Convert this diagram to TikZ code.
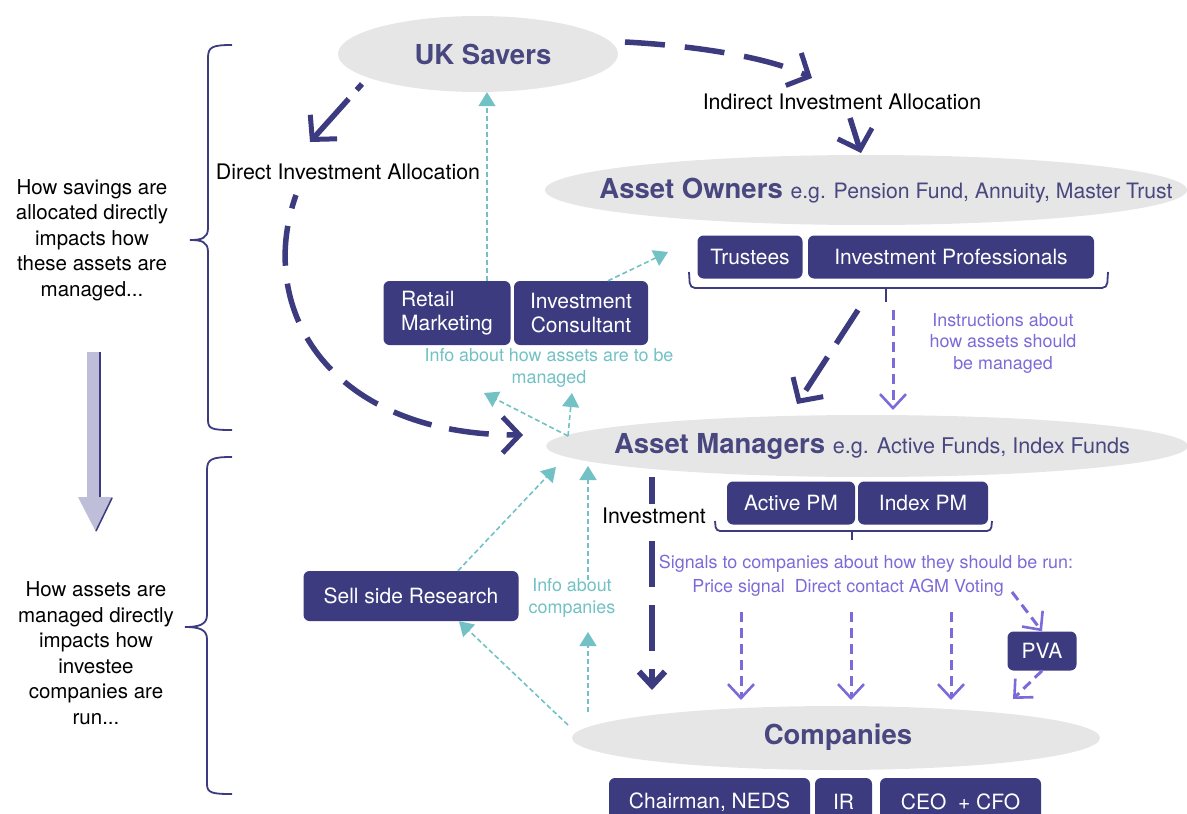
\documentclass[tikz,border=0pt]{standalone}
\usepackage{fontspec}
\setmainfont{TeX Gyre Heros}
\usetikzlibrary{arrows.meta,shapes.geometric}
\definecolor{navy}{HTML}{3C3B7F}
\definecolor{ellfill}{HTML}{E6E6E6}
\definecolor{elltext}{HTML}{48477F}
\definecolor{tealc}{HTML}{72C1C4}
\definecolor{purp}{HTML}{7D6AD8}
\definecolor{grayarrow}{HTML}{BEBED8}
\begin{document}
\begin{tikzpicture}[x=1pt,y=-1pt,
  ell/.style={ellipse, fill=ellfill, inner sep=0pt},
  titletext/.style={text=elltext, font=\fontsize{27.5}{30}\selectfont\bfseries},
  box/.style={rectangle, rounded corners=6pt, fill=navy, text=white, inner sep=0pt, align=center, font=\fontsize{21}{23.5}\selectfont},
  blacktext/.style={text=black, font=\fontsize{21.4}{25.5}\selectfont, align=center, inner sep=0pt},
  sidetext/.style={text=black, font=\fontsize{20.5}{25.5}\selectfont, align=center, inner sep=0pt},
  tealtext/.style={text=tealc, font=\fontsize{17.9}{21.5}\selectfont, align=center, inner sep=0pt},
  purptext/.style={text=purp, font=\fontsize{17.9}{21.5}\selectfont, align=center, inner sep=0pt},
  bigarrow/.style={navy, line width=5.5pt, dash pattern=on 40pt off 20pt, -{Straight Barb[length=17pt,width=36pt,line width=5pt]}},
  purparrow/.style={purp, line width=3pt, dash pattern=on 10pt off 6pt, -{Straight Barb[length=14pt,width=26pt,line width=2.6pt]}},
  tealarrow/.style={tealc, line width=1.6pt, dash pattern=on 5pt off 3pt, -{Triangle[length=14pt,width=17pt]}},
  bracel/.style={navy, line width=1.8pt},
]
\useasboundingbox (0,0) rectangle (1187,814);

% helper x positions
\coordinate (x458) at (458,0);
\coordinate (x459) at (459,0);
\coordinate (x487) at (487,0);
\coordinate (x608) at (608,0);

% ellipses
\node[ell, minimum width=280pt, minimum height=76pt] (uk) at (478,54) {};
\node[titletext] (uktext) at (483,54) {UK Savers};
\node[ell, minimum width=642pt, minimum height=70pt] (ao) at (866,190) {};
\node[titletext] (aotext) at (886,191) {Asset Owners {\fontsize{21.2}{24}\selectfont\mdseries e.g. Pension Fund, Annuity, Master Trust}};
\node[ell, minimum width=642pt, minimum height=62pt] (am) at (867,446) {};
\node[titletext] (amtext) at (872,446) {Asset Managers {\fontsize{21.6}{24}\selectfont\mdseries e.g. Active Funds, Index Funds}};
\node[ell, minimum width=528pt, minimum height=64pt] (co) at (836,738) {};
\node[titletext] (cotext) at (838,737) {Companies};

% boxes
\node[box, minimum width=105pt, minimum height=43pt] (tr) at (750,257) {Trustees};
\node[box, minimum width=286pt, minimum height=43pt] (ip) at (951,257) {Investment Professionals};
\node[box, minimum width=127pt, minimum height=64pt, align=left] (rm) at (447,313) {Retail\\Marketing};
\node[box, minimum width=134pt, minimum height=64pt] (ic) at (581,313) {Investment\\Consultant};
\node[box, minimum width=128pt, minimum height=43pt] (apm) at (791,503) {Active PM};
\node[box, minimum width=130pt, minimum height=43pt] (ipm) at (923,503) {Index PM};
\node[box, minimum width=215pt, minimum height=50pt] (ssr) at (411,596) {Sell side Research};
\node[box, minimum width=69pt, minimum height=39pt] (pva) at (1042,651) {PVA};
\node[box, minimum width=201pt, minimum height=48pt] (ch) at (709.5,802) {Chairman, NEDS};
\node[box, minimum width=57pt, minimum height=48pt] (ir) at (843.5,802) {IR};
\node[box, minimum width=161pt, minimum height=48pt] (ceo) at (960.5,802) {CEO \ + CFO};

% texts
\node[blacktext] (dia) at (348,172) {Direct Investment Allocation};
\node[blacktext] (iia) at (842,102) {Indirect Investment Allocation};
\node[sidetext] (lt1) at (92,240) {How savings are\\allocated directly\\impacts how\\these assets are\\managed...};
\node[sidetext] (lt2) at (96,653) {How assets are\\managed directly\\impacts how\\investee\\companies are\\run...};
\node[tealtext] (info1) at (549,368) {Info about how assets are to be\\managed};
\node[tealtext] (info2) at (572,598) {Info about\\companies};
\node[purptext] (instr) at (1003,343) {Instructions about\\how assets should\\be managed};
\node[purptext] (sig1) at (866,564) {Signals to companies about how they should be run:};
\node[purptext] (sig2) at (848,588) {Price signal \ Direct contact AGM Voting};

% left braces
\draw[bracel] (232,45) .. controls (212,45) and (208,47) .. (208,58) -- (208,228) .. controls (208,238) and (202,240) .. (190,240)
   .. controls (202,240) and (208,242) .. (208,252) -- (208,420) .. controls (208,429) and (212,430) .. (232,430);
\draw[bracel] (232,457) .. controls (212,457) and (207,459) .. (207,470) -- (207,615) .. controls (207,625) and (198,627) .. (185,627)
   .. controls (198,627) and (207,629) .. (207,639) -- (207,784) .. controls (207,793) and (212,794) .. (232,794);

% gray arrow
\fill[grayarrow] (87,352) -- (100,352) -- (100,497) -- (113,497) -- (96,532) -- (78,497) -- (87,497) -- cycle;
\draw[navy, line width=1.5pt] (100,352) -- (100,497);
\draw[navy, line width=1.5pt] (112,498) -- (96,531);

% small braces
\draw[bracel, rounded corners=5pt] (689,272) -- (690,288) -- (1107,288) -- (1108,272);
\coordinate (trb) at (886,288);
\coordinate (trtip) at (886,302);
\draw[bracel] (trb) -- (trtip);
\draw[bracel, rounded corners=4pt] (715,521) -- (716,531) -- (991,531) -- (992,521);
\coordinate (pmb) at (852,531);
\coordinate (pmtip) at (852,540);
\draw[bracel] (pmb) -- (pmtip);

% big dashed arrows
\coordinate (a1s) at (625,42);
\coordinate (a1e) at (812,78);
\draw[bigarrow] (a1s) .. controls (700,46) and (770,58) .. (a1e);
\coordinate (a2s) at (850,118);
\coordinate (a2e) at (861,153);
\draw[bigarrow, dash pattern=on 40pt off 0pt] (a2s) -- (a2e);
\coordinate (a3s) at (362,84);
\coordinate (a3e) at (310,142);
\draw[bigarrow, dash pattern=on 8pt off 12pt on 60pt off 0pt] (a3s) -- (a3e);
\coordinate (a4s) at (296,195);
\coordinate (a4e) at (523,435);
\draw[bigarrow, dash pattern=on 40pt off 18pt, dash phase=26pt] (a4s) .. controls (255,310) and (330,435) .. (a4e);
\coordinate (a5s) at (858,310);
\coordinate (a5e) at (797,404);
\draw[bigarrow, dash pattern=on 40pt off 16pt] (a5s) -- (a5e);
\coordinate (a6s) at (652,477);
\coordinate (a6e) at (652,690);
\draw[bigarrow, dash pattern=on 46pt off 18pt, -{Straight Barb[length=14pt,width=26pt,line width=6pt]}] (a6s) -- (a6e);
\node[blacktext, fill=white, inner xsep=2pt, inner ysep=4pt] (inv) at (654,516) {Investment};

% purple arrows
\coordinate (p0s) at (893,310);
\coordinate (p0e) at (893,410);
\draw[purparrow] (p0s) -- (p0e);
\coordinate (p1s) at (741,612); \coordinate (p1e) at (741,700);
\coordinate (p2s) at (851,612); \coordinate (p2e) at (851,700);
\coordinate (p3s) at (951,612); \coordinate (p3e) at (951,700);
\draw[purparrow] (p1s) -- (p1e);
\draw[purparrow] (p2s) -- (p2e);
\draw[purparrow] (p3s) -- (p3e);
\coordinate (p4s) at (1012,592);
\draw[purparrow] (p4s) -- (pva.north);
\coordinate (p5e) at (1013,699);
\draw[purparrow] (pva.south) -- (p5e);

% teal arrows
\draw[tealarrow] (rm.north -| x487) -- (uk.south -| x487);
\coordinate (t2e) at (668,252);
\draw[tealarrow] (ic.north -| x608) -- (t2e);
\coordinate (amw) at (568,436);
\coordinate (t3e) at (484,393);
\coordinate (t4e) at (572,393);
\draw[tealarrow] (amw) -- (t3e);
\draw[tealarrow] (amw) -- (t4e);
\coordinate (t5e) at (556,467);
\draw[tealarrow] (ssr.north -| x458) -- (t5e);
\coordinate (t6s) at (588,580);
\coordinate (t6e) at (588,466);
\draw[tealarrow] (t6s) -- (t6e);
\coordinate (cow) at (568,725);
\draw[tealarrow] (cow) -- (ssr.south -| x459);
\coordinate (t8s) at (588,712);
\coordinate (t8e) at (588,632);
\draw[tealarrow] (t8s) -- (t8e);
\end{tikzpicture}
\end{document}
